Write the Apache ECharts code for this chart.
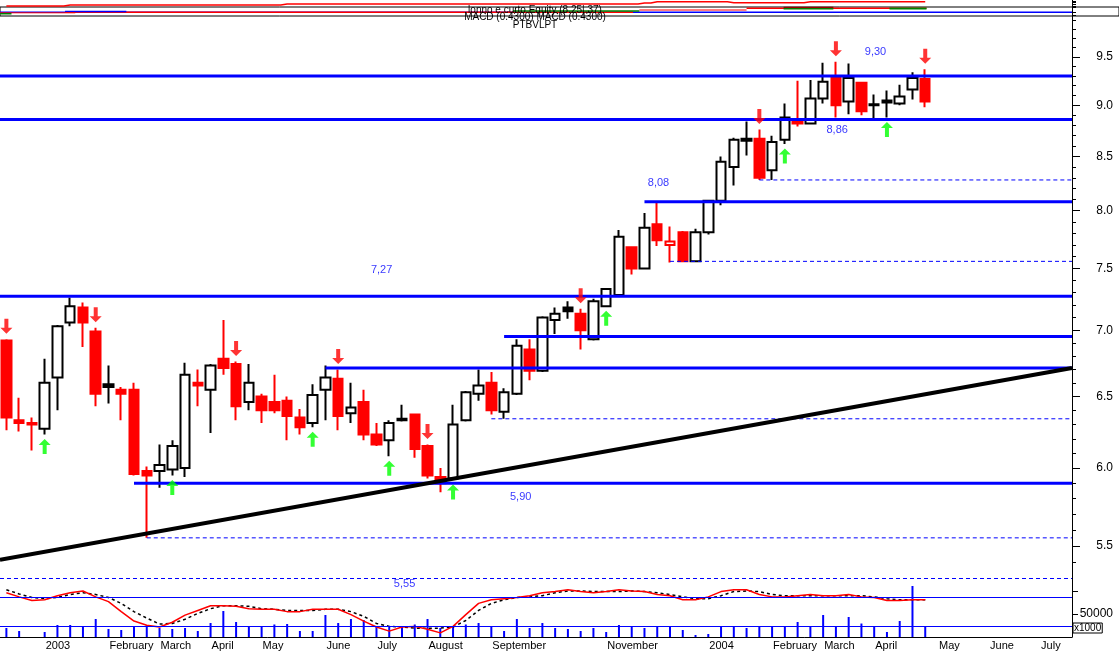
<!DOCTYPE html>
<html><head><meta charset="utf-8">
<script src="https://cdn.jsdelivr.net/npm/echarts@6/dist/echarts.min.js"></script>
<style>html,body{margin:0;padding:0;background:#fff}#c{width:1119px;height:652px}</style>
</head><body><div id="c"></div>
<script>
// ---- weekly categories (Fridays) ----
const dates = ['2002-12-13','2002-12-20','2002-12-27',
'2003-01-03','2003-01-10','2003-01-17','2003-01-24','2003-01-31','2003-02-07','2003-02-14','2003-02-21','2003-02-28',
'2003-03-07','2003-03-14','2003-03-21','2003-03-28','2003-04-04','2003-04-11','2003-04-18','2003-04-25','2003-05-02',
'2003-05-09','2003-05-16','2003-05-23','2003-05-30','2003-06-06','2003-06-13','2003-06-20','2003-06-27','2003-07-04',
'2003-07-11','2003-07-18','2003-07-25','2003-08-01','2003-08-08','2003-08-15','2003-08-22','2003-08-29','2003-09-05',
'2003-09-12','2003-09-19','2003-09-26','2003-10-03','2003-10-10','2003-10-17','2003-10-24','2003-10-31','2003-11-07',
'2003-11-14','2003-11-21','2003-11-28','2003-12-05','2003-12-12','2003-12-19','2003-12-26',
'2004-01-02','2004-01-09','2004-01-16','2004-01-23','2004-01-30','2004-02-06','2004-02-13','2004-02-20','2004-02-27',
'2004-03-05','2004-03-12','2004-03-19','2004-03-26','2004-04-02','2004-04-09','2004-04-16','2004-04-23','2004-04-30',
'2004-05-07','2004-05-14','2004-05-21','2004-05-28','2004-06-04','2004-06-11','2004-06-18','2004-06-25','2004-07-02',
'2004-07-09','2004-07-16'];

// labels shown at each month start (empty = not printed)
const tickLabels = ['2003','February','March','April','May','June','July','August','September','','November','','2004','February','March','April','May','June','July'];

// ---- OHLC ----
const opens  = [6.92,6.33,6.31,6.27,6.64,7.06,7.18,6.99,6.59,6.55,6.55,5.98,5.98,5.99,6.00,6.60,6.55,6.78,6.74,6.46,6.50,6.46,6.47,6.35,6.31,6.55,6.63,6.38,6.46,6.23,6.19,6.33,6.37,6.15,5.94,5.93,6.33,6.52,6.60,6.39,6.52,6.85,6.69,7.08,7.18,7.13,6.93,7.19,7.28,7.68,7.50,7.88,7.70,7.81,7.56,7.81,8.09,8.40,8.67,8.67,8.37,8.66,8.86,8.82,9.07,9.28,9.04,9.23,9.00,9.05,9.02,9.16,9.27];
const closes = [6.35,6.31,6.30,6.60,7.03,7.19,7.06,6.52,6.57,6.52,5.96,5.95,6.02,6.15,6.66,6.58,6.73,6.71,6.43,6.60,6.40,6.40,6.36,6.28,6.51,6.64,6.36,6.42,6.23,6.16,6.31,6.34,6.13,5.95,5.90,6.30,6.53,6.58,6.40,6.53,6.88,6.69,7.10,7.13,7.15,7.00,7.23,7.33,7.77,7.50,7.85,7.74,7.73,7.56,7.81,8.09,8.45,8.66,8.65,8.30,8.64,8.88,8.82,9.07,9.24,9.00,9.28,8.94,9.01,9.03,9.09,9.28,9.04];
const lows   = [6.26,6.25,6.12,6.23,6.40,7.03,6.87,6.43,6.45,6.33,5.95,5.55,5.87,5.95,5.94,6.43,6.24,6.66,6.33,6.40,6.31,6.38,6.19,6.23,6.28,6.33,6.26,6.31,6.19,6.15,6.08,6.32,6.07,5.93,5.84,5.92,6.32,6.47,6.37,6.34,6.51,6.62,6.68,6.97,7.09,6.85,6.92,7.19,7.28,7.45,7.50,7.69,7.55,7.56,7.56,7.79,8.05,8.23,8.51,8.28,8.28,8.62,8.79,8.82,9.02,8.88,8.91,8.90,8.87,8.88,9.00,9.06,8.98];
const highs  = [6.93,6.49,6.35,6.78,7.04,7.26,7.22,7.02,6.73,6.57,6.60,6.01,6.16,6.19,6.75,6.70,6.74,7.08,6.76,6.74,6.52,6.66,6.50,6.41,6.59,6.73,6.70,6.60,6.55,6.31,6.33,6.44,6.37,6.16,6.00,6.44,6.54,6.70,6.68,6.56,6.93,6.93,7.11,7.18,7.23,7.17,7.25,7.33,7.83,7.68,7.98,8.08,7.86,7.82,7.84,8.09,8.50,8.68,8.84,8.76,8.70,9.02,9.25,9.26,9.44,9.45,9.43,9.24,9.11,9.15,9.21,9.34,9.37];
const blackCandles = [8, 44, 58, 69];
const hollowRedCandles = [52];

// ---- signals ----
const arrowsDown = [0, 7, 18, 26, 33, 45, 59, 65, 72];
const arrowsUp   = [3, 13, 24, 30, 35, 47, 61, 69];

// ---- resistance / support levels ----
const levelPrices = [9.30, 8.86, 8.08, 7.27, 6.95, 6.71, 5.90];
const levelStarts = [-0.5, -0.5, 50, -0.5, 39, 25, 10];
const dashPrices  = [8.28, 7.56, 6.34, 5.55];
const dashStarts  = [59, 52, 38, 11];
const trendPrices = [5.415, 6.71];   // at left edge and right edge
const levelNotes = [
  {text:'9,30', at:68.1, price:9.30, dy:-24},
  {text:'8,86', at:65.1, price:8.86, dy:11},
  {text:'8,08', at:51.1, price:8.08, dy:-19},
  {text:'7,27', at:29.4, price:7.27, dy:-26},
  {text:'5,90', at:40.3, price:5.90, dy:14},
  {text:'5,55', at:31.2, price:5.55, dy:46}
];

// ---- volume (x1000) ----
const volumes = [19600,13000,0,10900,26100,26100,23900,39100,17400,15200,23900,26100,19600,17400,19600,13000,30400,56500,32600,21700,23900,27200,28300,13000,13000,47800,30400,39100,37000,21700,21700,23900,27200,39100,19600,21700,27200,30400,23900,13000,39100,19600,30400,19600,17400,13000,19600,10900,26100,21700,19600,21700,21700,15200,4300,6500,23900,23900,19600,21700,23900,23900,32600,23900,47800,23900,43500,29300,23900,10900,34800,110900,23900];

// ---- oscillator ----
const oscFast = [75,68,62,63,70,75,78,68,60,43,27,20,17,25,37,45,53,53,52,48,47,47,43,43,47,47,47,38,27,17,10,17,18,13,7,18,38,57,63,65,67,70,75,77,80,77,75,77,80,78,77,72,70,63,63,68,77,80,80,72,68,68,70,72,70,70,72,68,67,62,62,63,63];
const oscSlow = [80,73,67,65,67,72,75,72,67,57,43,32,22,23,30,40,48,53,53,52,48,47,45,45,45,47,47,43,35,23,18,17,15,15,15,17,28,45,57,63,67,68,70,75,78,78,77,77,77,78,77,75,72,68,65,65,70,77,78,77,72,70,70,70,70,70,70,70,68,65,63,63,63];
const oscLevels = [100, 68, 18];

// ---- header mini panel ----
const headerEquity = [10,10,10,10,10, 11,11,11,11,11,11,11,11,11,11,11,11,11,11,11,11,11,
 12,12,12,12,12,12,12,12,12,12,12,12,12,12,12,12,12,12,12,12,12,12,12,12,12,12,12,12, 13,
 14.3,14.3,14.3,14.3,14.3,14.3, 13.3,13.3,13.3,13.3,13.3,13.3, 14.3,14.3,14.3,14.3,14.3,14.3,14.3,14.3,14.3,14.3];
const headerSegments = [
  {from:-0.5, to:83.5, v:3.7, color:'#0000ff', w:1.5},
  {from:4.6, to:49.1, v:3.7, color:'#ff0000', w:1.5},
  {from:4.6, to:9.4, v:4.6, color:'#0000ff', w:1.5},
  {from:-0.5, to:5.4, v:3.2, color:'#ff0000', w:1},
  {from:-0.5, to:0.4, v:2.2, color:'#008000', w:1.5},
  {from:39.7, to:49.6, v:5.0, color:'#008000', w:1.5},
  {from:49.6, to:58.0, v:6.0, color:'#ff0000', w:1},
  {from:58.0, to:72.1, v:7.7, color:'#ff0000', w:1.5},
  {from:60.9, to:64.8, v:8.6, color:'#990000', w:1.5},
  {from:60.9, to:64.8, v:7.2, color:'#008000', w:1.5},
  {from:69.2, to:72.1, v:7.6, color:'#008000', w:2}
];
const headerTicks = [15, 13.3, 11.7, 10, 9, 3.7, 1];

const priceTicks = [5.5, 6.0, 6.5, 7.0, 7.5, 8.0, 8.5, 9.0, 9.5];
const minorTicks = [];
for (let k = 54; k <= 99; k++) minorTicks.push(k / 10);

// ---------------------------------------------------------------
const FONT = '"Liberation Sans", Arial, sans-serif';
const NALL = dates.length;
const XMAX = NALL - 0.5;
const PMIN = 5.3064, PMAX = 9.9455;
const VMAX = 128261;

const monthStarts = [];
for (let i = 1; i < NALL; i++) if (dates[i].slice(0,7) !== dates[i-1].slice(0,7)) monthStarts.push(i);
const labelAt = {};
monthStarts.forEach((idx, k) => { labelAt[idx] = tickLabels[k]; });
const startSet = new Set(monthStarts);

const candleData = opens.map((o, i) => {
  const it = {value: [o, closes[i], lows[i], highs[i]]};
  if (blackCandles.includes(i)) it.itemStyle = {color:'#000', color0:'#000', borderColor:'#000', borderColor0:'#000'};
  if (hollowRedCandles.includes(i)) it.itemStyle = {color:'#fff', color0:'#fff', borderColor:'#ff0000', borderColor0:'#ff0000'};
  return it;
});

const series = [];

// header
series.push({type:'line', xAxisIndex:0, yAxisIndex:0, data: headerEquity.map((v,i)=>[i,v]), step:'middle',
  symbol:'none', lineStyle:{color:'#ff0000', width:1.5}, silent:true, z:3});
headerSegments.forEach(s => series.push({type:'line', xAxisIndex:0, yAxisIndex:0, data:[[s.from,s.v],[s.to,s.v]],
  symbol:'none', lineStyle:{color:s.color, width:s.w}, silent:true, z:2}));

// candles
series.push({type:'candlestick', xAxisIndex:1, yAxisIndex:1, data:candleData, barWidth:10,
  itemStyle:{color:'#ffffff', color0:'#ff0000', borderColor:'#000000', borderColor0:'#ff0000', borderWidth:2}, z:2});

// levels
levelPrices.forEach((p, k) => series.push({type:'line', xAxisIndex:2, yAxisIndex:1,
  data:[[levelStarts[k], p],[XMAX, p]], symbol:'none', silent:true,
  lineStyle:{color:'#0000ff', width:3}, z:4}));
dashPrices.forEach((p, k) => series.push({type:'line', xAxisIndex:2, yAxisIndex:1,
  data:[[dashStarts[k], p],[XMAX, p]], symbol:'none', silent:true,
  lineStyle:{color:'#0000ff', width:1, type:[4,3]}, z:4}));
// trend line
series.push({type:'line', xAxisIndex:2, yAxisIndex:1, data:[[-0.5, trendPrices[0]],[XMAX, trendPrices[1]]],
  symbol:'none', silent:true, lineStyle:{color:'#000', width:4}, z:4});

// arrows
series.push({type:'scatter', xAxisIndex:1, yAxisIndex:1, data: arrowsDown.map(i=>[i, highs[i]]),
  symbol:'path://M4,0L8,0L8,9L12,9L6,15L0,9L4,9Z', symbolSize:[12,15], symbolOffset:[0,-13],
  itemStyle:{color:'#ff0000'}, silent:true, z:6});
series.push({type:'scatter', xAxisIndex:1, yAxisIndex:1, data: arrowsUp.map(i=>[i, lows[i]]),
  symbol:'path://M6,0L12,6L8,6L8,15L4,15L4,6L0,6Z', symbolSize:[12,15], symbolOffset:[0,12],
  itemStyle:{color:'#00ff00'}, silent:true, z:6});

// level notes
series.push({type:'scatter', xAxisIndex:2, yAxisIndex:1, silent:true, z:6, symbolSize:1,
  itemStyle:{color:'rgba(0,0,0,0)'},
  data: levelNotes.map(n => ({value:[n.at, n.price],
    label:{show:true, formatter:n.text, position:'inside', offset:[0, n.dy], color:'#0000ff', fontSize:11, fontFamily:FONT}}))});

// volume
series.push({type:'bar', xAxisIndex:3, yAxisIndex:4, data:volumes, barWidth:2, itemStyle:{color:'#0000ff'}, silent:true, z:2});

// oscillator
series.push({type:'line', xAxisIndex:3, yAxisIndex:3, data:oscFast, symbol:'none', silent:true,
  lineStyle:{color:'#ff0000', width:1.5}, z:4,
  markLine:{silent:true, symbol:'none', label:{show:false},
    data: oscLevels.map((v,k)=>({yAxis:v, lineStyle:{color:'#0000ff', width:1, type: k===0 ? [4,3] : 'solid'}}))}});
series.push({type:'line', xAxisIndex:3, yAxisIndex:3, data:oscSlow, symbol:'none', silent:true,
  lineStyle:{color:'#000', width:1.5, type:[3,3]}, z:3});

const option = {
  animation:false,
  backgroundColor:'#ffffff',
  textStyle:{fontFamily:FONT},
  grid:[
    {left:0, right:47, top:0, height:16},
    {left:0, right:47, top:16, height:562},
    {left:0, right:47, top:578, height:59},
    {left:0, right:0, top:7, height:9, show:true, borderColor:'#000', borderWidth:1, backgroundColor:'rgba(0,0,0,0)'}
  ],
  xAxis:[
    {type:'value', gridIndex:0, min:-0.5, max:XMAX, show:false, axisLine:{onZero:false}},
    {type:'category', gridIndex:1, data:dates, show:false, position:'bottom', axisLine:{onZero:false}},
    {type:'value', gridIndex:1, min:-0.5, max:XMAX, show:false, position:'bottom', axisLine:{onZero:false}},
    {type:'category', gridIndex:2, data:dates, position:'bottom',
      axisLine:{onZero:false, lineStyle:{color:'#000', width:1}},
      axisTick:{alignWithLabel:true, interval:0, length:5, lineStyle:{color:'#000'}},
      axisLabel:{show:false}, splitLine:{show:false}},
    {type:'category', gridIndex:2, data:dates, position:'bottom',
      axisLine:{show:false, onZero:false},
      axisTick:{alignWithLabel:true, interval:(i)=>startSet.has(i), length:15, lineStyle:{color:'#000'}},
      axisLabel:{interval:(i)=>startSet.has(i), formatter:(v,i)=>labelAt[i]||'', align:'left',
        margin:3, padding:[0,0,0,1], color:'#000', fontSize:11, fontFamily:FONT},
      splitLine:{show:false}},
    {type:'value', gridIndex:3, show:false, axisLine:{onZero:false}}
  ],
  yAxis:[
    {type:'value', gridIndex:0, min:0, max:16, position:'right',
      axisLine:{show:true, onZero:false, lineStyle:{color:'#000'}},
      axisTick:{show:true, customValues:headerTicks, length:4, lineStyle:{color:'#000'}},
      axisLabel:{show:false}, splitLine:{show:false}},
    {type:'log', gridIndex:1, min:PMIN, max:PMAX, position:'right',
      axisLine:{show:true, onZero:false, lineStyle:{color:'#000'}},
      axisTick:{show:true, customValues:priceTicks, length:8, lineStyle:{color:'#000'}},
      axisLabel:{customValues:priceTicks, formatter:(v)=>Number(v).toFixed(1), align:'right', margin:41,
        color:'#000', fontSize:12, fontFamily:FONT},
      splitLine:{show:false}},
    {type:'log', gridIndex:1, min:PMIN, max:PMAX, position:'right',
      axisLine:{show:false, onZero:false},
      axisTick:{show:true, customValues:minorTicks, length:4, lineStyle:{color:'#000'}},
      axisLabel:{show:false}, splitLine:{show:false}},
    {type:'value', gridIndex:2, min:0, max:100, show:false, axisLine:{onZero:false}},
    {type:'value', gridIndex:2, min:0, max:VMAX, position:'right',
      axisLine:{show:true, onZero:false, lineStyle:{color:'#000'}},
      axisTick:{show:true, customValues:[50000, 100000], length:6, lineStyle:{color:'#000'}},
      axisLabel:{customValues:[50000], formatter:(v)=>String(Math.round(v)), align:'right', margin:41, color:'#000', fontSize:12, fontFamily:FONT},
      splitLine:{show:false}},
    {type:'value', gridIndex:3, show:false, axisLine:{onZero:false}}
  ],
  graphic:[
    {type:'text', x:535, y:10.5, z:10, style:{text:'lonno e curto Equity (8.25|.37)', font:'10px "Liberation Sans", Arial', fill:'#000', align:'center', verticalAlign:'middle'}},
    {type:'text', x:535, y:17.5, z:10, style:{text:'MACD (0.4300) MACD (0.4300)', font:'10px "Liberation Sans", Arial', fill:'#000', align:'center', verticalAlign:'middle'}},
    {type:'text', x:535, y:25, z:10, style:{text:'PTBVLPT', font:'10px "Liberation Sans", Arial', fill:'#000', align:'center', verticalAlign:'middle'}},
    {type:'text', x:1073, y:623, z:10, style:{text:'x1000', font:'10px "Liberation Sans", Arial', fill:'#000', borderColor:'#000', borderWidth:1, padding:[0,1,0,1]}}
  ],
  series: series
};

const chart = echarts.init(document.getElementById('c'), null, {renderer:'canvas'});
chart.setOption(option);
</script>
</body></html>
